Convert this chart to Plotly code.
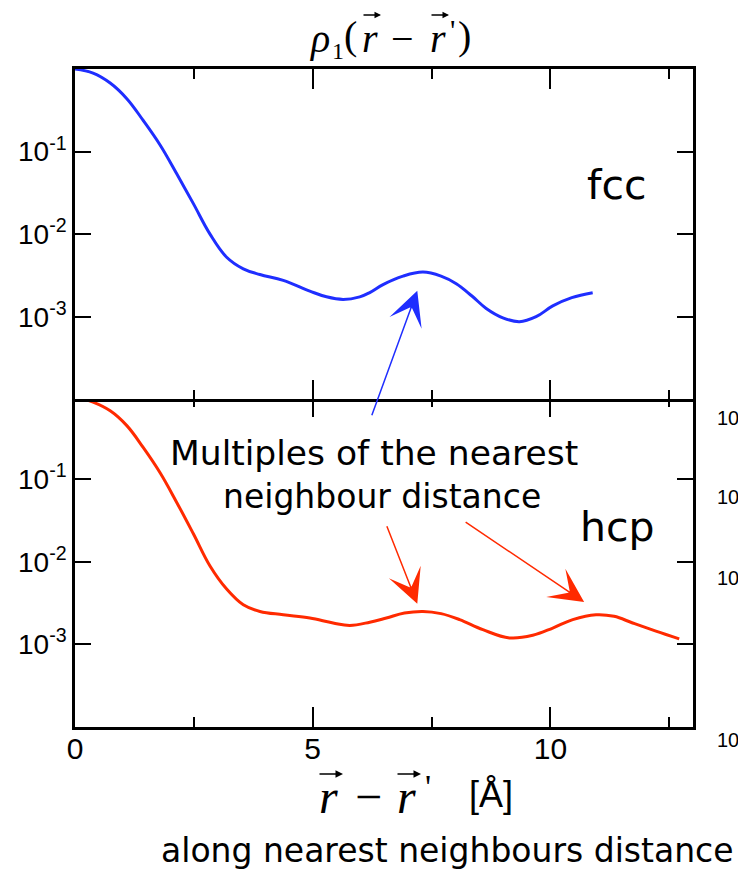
import plotly.graph_objects as go

# ---- data ----
x_fcc = [0.0, 0.38, 0.74, 1.09, 1.43, 1.79, 2.14, 2.49, 2.84, 3.19, 3.54, 3.89, 4.38, 4.94,
         5.29, 5.64, 5.99, 6.2, 6.48, 6.9, 7.32, 7.7, 8.02, 8.35, 8.65, 9.0, 9.35, 9.7,
         10.05, 10.45, 10.89]
y_fcc = [1.0, 0.891, 0.676, 0.437, 0.240, 0.120, 0.0537, 0.0234, 0.0100, 0.00525, 0.0038,
         0.00324, 0.00275, 0.00204, 0.00174, 0.00162, 0.00174, 0.00196, 0.00245, 0.00310,
         0.00347, 0.00310, 0.00251, 0.00178, 0.00126, 0.00097, 0.00087, 0.00100, 0.00135,
         0.0017, 0.00195]

x_hcp = [0.0, 0.38, 0.74, 1.09, 1.43, 1.79, 2.14, 2.49, 2.84, 3.19, 3.54, 3.89, 4.38, 4.94,
         5.43, 5.78, 6.2, 6.55, 6.93, 7.32, 7.7, 8.09, 8.58, 9.14, 9.63, 10.05, 10.47,
         10.96, 11.34, 11.73, 12.22, 12.71]
y_hcp = [1.0, 0.861, 0.676, 0.447, 0.245, 0.120, 0.0525, 0.0219, 0.00891, 0.00468, 0.00302,
         0.00251, 0.00229, 0.00209, 0.00182, 0.0017, 0.00186, 0.00209, 0.00240, 0.00251,
         0.00236, 0.00200, 0.00151, 0.00120, 0.00129, 0.00158, 0.0020, 0.00229, 0.00219,
         0.00182, 0.00145, 0.00117]

x_tickvals = [0, 5, 10]
x_ticktext = ["0", "5", "10"]
y_tickvals = [1e-1, 1e-2, 1e-3]
y_ticktext = ["10<sup>-1</sup>", "10<sup>-2</sup>", "10<sup>-3</sup>"]

BLUE = "#1f2eff"
RED = "#ff2a00"
COMIC = "Comic Sans MS, DejaVu Sans, sans-serif"
SERIF = "Liberation Serif, Times New Roman, serif"
SANS = "Liberation Sans, Arial, sans-serif"

W, H = 738, 869
L, R, T, B = 75, 45, 69, 142
PW, PH = W - L - R, H - T - B


def px(xp):
    return (xp - L) / PW


def py(yp):
    return (H - B - yp) / PH


fig = go.Figure()
fig.add_trace(go.Scatter(x=x_fcc, y=y_fcc, xaxis="x2", yaxis="y2", mode="lines",
                         line=dict(color=BLUE, width=3, shape="spline", smoothing=1.1),
                         showlegend=False))
fig.add_trace(go.Scatter(x=x_hcp, y=y_hcp, xaxis="x", yaxis="y", mode="lines",
                         line=dict(color=RED, width=3, shape="spline", smoothing=1.1),
                         showlegend=False))

LW = 2.5
common = dict(showline=True, linecolor="black", linewidth=LW, mirror="ticks",
              ticks="inside", tickcolor="black", tickwidth=1.5,
              showgrid=False, zeroline=False)

xax = dict(common, range=[0, 13], tickvals=x_tickvals, ticktext=x_ticktext, ticklen=20,
           minor=dict(dtick=2.5, tick0=0, ticks="inside", ticklen=10, tickwidth=1.5,
                      tickcolor="black", showgrid=False),
           ticklabelstandoff=-7,
           tickfont=dict(family=SANS, size=30, color="black"))
yax = dict(common, type="log", range=[-4, 0], tickvals=y_tickvals, ticktext=y_ticktext,
           ticklen=16, tickfont=dict(family=SANS, size=28, color="black"))

half = (LW / 2) / PH
fig.update_layout(
    width=W, height=H,
    margin=dict(l=L, r=R, t=T, b=B),
    paper_bgcolor="white", plot_bgcolor="white",
    xaxis=dict(xax, domain=[0, 1], anchor="y"),
    xaxis2=dict(xax, domain=[0, 1], anchor="y2", matches="x", showticklabels=False),
    yaxis=dict(yax, domain=[0, 0.5 + half], anchor="x"),
    yaxis2=dict(yax, domain=[0.5 - half, 1], anchor="x2"),
)

ann = []


def txt(text, xp, yp, size, family=SERIF, xanchor="center", yanchor="middle"):
    ann.append(dict(xref="paper", yref="paper", x=px(xp), y=py(yp), xanchor=xanchor,
                    yanchor=yanchor, showarrow=False, text=text,
                    font=dict(family=family, size=size, color="black")))


def vec(x0, x1, yp, width=1.3, size=1.0):
    # small vector arrow drawn over a symbol (head at x1)
    ann.append(dict(xref="paper", yref="paper", x=px(x1), y=py(yp), ax=x0 - x1, ay=0,
                    showarrow=True, arrowhead=2, arrowsize=size, arrowwidth=width,
                    arrowcolor="black", text="", standoff=0))


# title  rho_1(r - r')
TS = 40
txt("<i>ρ</i>", 319, 38, TS)
txt("1", 338, 51, 24)
txt("(", 350, 36, TS)
txt("<i>r</i>", 370, 38, TS)
vec(362, 381, 15)
txt("−", 402, 38, TS)
txt("<i>r</i>", 438, 38, TS)
vec(430, 449, 15)
txt("'", 452, 30, 30)
txt(")", 464, 36, TS)

# x-axis title  r - r'  [Å]
XS = 48
txt("<i>r</i>", 328, 796, XS)
vec(318, 343, 774, width=1.5)
txt("−", 368, 796, XS)
txt("<i>r</i>", 406, 796, XS)
vec(396, 421, 774, width=1.5)
txt("'", 428, 786, 34)
txt("[Å]", 491, 794, 36, family=SANS)

# bottom caption
txt("along nearest neighbours distance", 447, 850, 33, family=COMIC)
# panel labels
txt("fcc", 617, 185, 41, family=COMIC)
txt("hcp", 617, 527, 41, family=COMIC)
# annotation text
txt("Multiples of the nearest", 374, 453, 34.5, family=COMIC)
txt("neighbour distance", 382, 497, 33, family=COMIC)

# arrows
arrow_style = dict(showarrow=True, arrowhead=3, arrowsize=3.8, arrowwidth=1.5, text="", standoff=0)
ann.append(dict(arrow_style, xref="x2", yref="y2", x=7.2, y=-2.685, ax=-46, ay=126, arrowcolor=BLUE))
ann.append(dict(arrow_style, xref="x", yref="y", x=7.2, y=-2.507, ax=-31, ay=-79, arrowcolor=RED))
ann.append(dict(arrow_style, xref="x", yref="y", x=10.71, y=-2.487, ax=-120, ay=-81, arrowcolor=RED))

# clipped labels of a neighbouring figure at the right edge
for yv in [418, 497, 578, 740]:
    txt("10", 715, yv, 20, family=SANS, xanchor="left")

fig.update_layout(annotations=ann)
fig.write_html("out.html")
